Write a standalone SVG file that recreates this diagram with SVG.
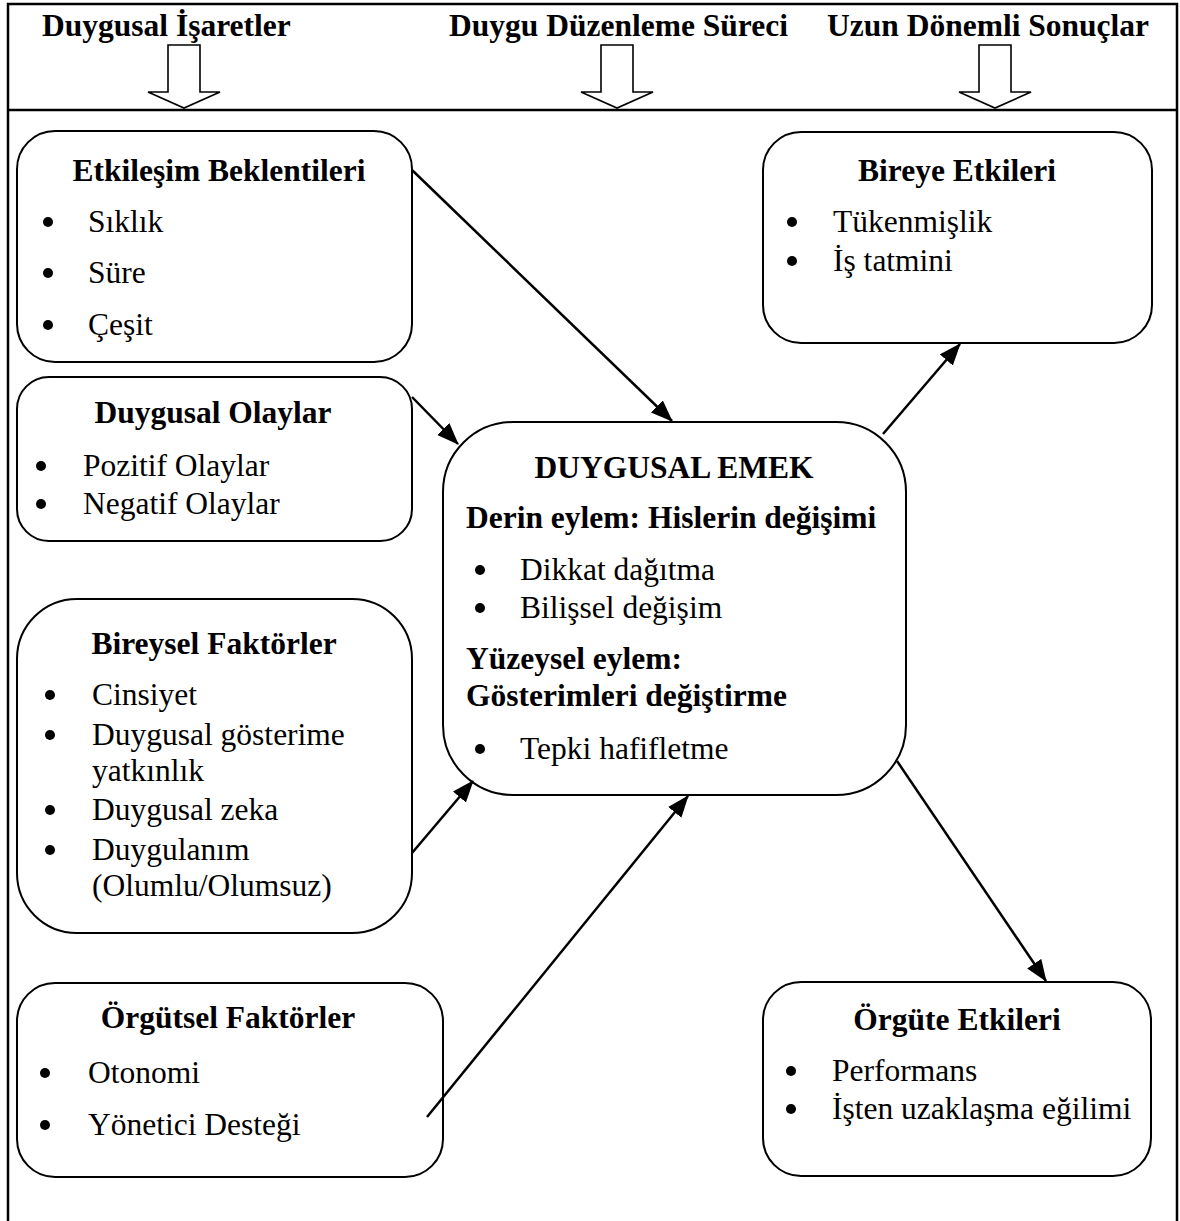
<svg xmlns="http://www.w3.org/2000/svg" width="1180" height="1221" viewBox="0 0 1180 1221">
<style>
.frame{fill:none;stroke:#000;stroke-width:2.5}
.box{fill:#fff;stroke:#000;stroke-width:2}
.blk{fill:#fff;stroke:#000;stroke-width:1.6;stroke-linejoin:miter}
.h{font-family:"Liberation Serif","Times New Roman",serif;font-weight:bold;font-size:31.5px;fill:#000}
.t{font-family:"Liberation Serif","Times New Roman",serif;font-size:31.5px;fill:#000}
.c{text-anchor:middle}
.conn{stroke:#000;stroke-width:2.5;fill:none}
.dot{fill:#000}
</style>
<defs>
<marker id="ah" markerUnits="userSpaceOnUse" markerWidth="22" markerHeight="18" refX="21" refY="8.5" orient="auto">
<path d="M0,0 L22,8.5 L0,17 z" fill="#000"/>
</marker>
</defs>

<g id="frame">
<path class="frame" d="M8,1221 V4 H1177 V1221"/>
<line class="frame" x1="8" y1="110" x2="1177" y2="110"/>
</g>

<g id="header">
<text class="h" x="42" y="36">Duygusal İşaretler</text>
<text class="h" x="449" y="36">Duygu Düzenleme Süreci</text>
<text class="h" x="827" y="36">Uzun Dönemli Sonuçlar</text>
<polygon class="blk" points="168,45 200,45 200,92 220,92 184,108 148,92 168,92"/>
<polygon class="blk" points="601,45 633,45 633,92 653,92 617,108 581,92 601,92"/>
<polygon class="blk" points="979,45 1011,45 1011,92 1031,92 995,108 959,92 979,92"/>
</g>

<g id="n-etkilesim">
<rect class="box" x="17" y="131" width="395" height="231" rx="38" ry="38"/>
<text class="h c" x="219" y="181">Etkileşim Beklentileri</text>
<circle class="dot" cx="48" cy="222" r="5"/><text class="t" x="88" y="232">Sıklık</text>
<circle class="dot" cx="48" cy="273" r="5"/><text class="t" x="88" y="283">Süre</text>
<circle class="dot" cx="48" cy="325" r="5"/><text class="t" x="88" y="335">Çeşit</text>
</g>

<g id="n-olaylar">
<rect class="box" x="17" y="377" width="395" height="164" rx="32" ry="32"/>
<text class="h c" x="213" y="423">Duygusal Olaylar</text>
<circle class="dot" cx="41" cy="466" r="5"/><text class="t" x="83" y="476">Pozitif Olaylar</text>
<circle class="dot" cx="41" cy="504" r="5"/><text class="t" x="83" y="514">Negatif Olaylar</text>
</g>

<g id="n-bireysel">
<rect class="box" x="17" y="599" width="395" height="334" rx="60" ry="60"/>
<text class="h c" x="214" y="654">Bireysel Faktörler</text>
<circle class="dot" cx="50" cy="695" r="5"/><text class="t" x="92" y="705">Cinsiyet</text>
<circle class="dot" cx="50" cy="735" r="5"/><text class="t" x="92" y="745">Duygusal gösterime</text>
<text class="t" x="92" y="781">yatkınlık</text>
<circle class="dot" cx="50" cy="810" r="5"/><text class="t" x="92" y="820">Duygusal zeka</text>
<circle class="dot" cx="50" cy="850" r="5"/><text class="t" x="92" y="860">Duygulanım</text>
<text class="t" x="92" y="896">(Olumlu/Olumsuz)</text>
</g>

<g id="n-orgutsel">
<rect class="box" x="17" y="983" width="426" height="194" rx="38" ry="38"/>
<text class="h c" x="228" y="1028">Örgütsel Faktörler</text>
<circle class="dot" cx="45" cy="1073" r="5"/><text class="t" x="88" y="1083">Otonomi</text>
<circle class="dot" cx="45" cy="1125" r="5"/><text class="t" x="88" y="1135">Yönetici Desteği</text>
</g>

<g id="n-emek">
<rect class="box" x="443" y="422" width="463" height="373" rx="70" ry="70"/>
<text class="h c" x="674" y="478">DUYGUSAL EMEK</text>
<text class="h" x="466" y="528">Derin eylem: Hislerin değişimi</text>
<circle class="dot" cx="480" cy="570" r="5"/><text class="t" x="520" y="580">Dikkat dağıtma</text>
<circle class="dot" cx="480" cy="608" r="5"/><text class="t" x="520" y="618">Bilişsel değişim</text>
<text class="h" x="466" y="669">Yüzeysel eylem:</text>
<text class="h" x="466" y="706">Gösterimleri değiştirme</text>
<circle class="dot" cx="480" cy="749" r="5"/><text class="t" x="520" y="759">Tepki hafifletme</text>
</g>

<g id="n-bireye">
<rect class="box" x="763" y="132" width="389" height="211" rx="38" ry="38"/>
<text class="h c" x="957" y="181">Bireye Etkileri</text>
<circle class="dot" cx="792" cy="222" r="5"/><text class="t" x="833" y="232">Tükenmişlik</text>
<circle class="dot" cx="792" cy="261" r="5"/><text class="t" x="833" y="271">İş tatmini</text>
</g>

<g id="n-orgute">
<rect class="box" x="763" y="982" width="388" height="194" rx="38" ry="38"/>
<text class="h c" x="957" y="1030">Örgüte Etkileri</text>
<circle class="dot" cx="791" cy="1071" r="5"/><text class="t" x="832" y="1081">Performans</text>
<circle class="dot" cx="791" cy="1109" r="5"/><text class="t" x="832" y="1119">İşten uzaklaşma eğilimi</text>
</g>

<g id="connectors">
<line class="conn" x1="412" y1="170" x2="672" y2="421" marker-end="url(#ah)"/>
<line class="conn" x1="412" y1="397" x2="458" y2="444" marker-end="url(#ah)"/>
<line class="conn" x1="412" y1="853" x2="473" y2="781" marker-end="url(#ah)"/>
<line class="conn" x1="427" y1="1117" x2="688" y2="796" marker-end="url(#ah)"/>
<line class="conn" x1="883" y1="434" x2="960" y2="344" marker-end="url(#ah)"/>
<line class="conn" x1="897" y1="761" x2="1046" y2="981" marker-end="url(#ah)"/>
</g>
</svg>
